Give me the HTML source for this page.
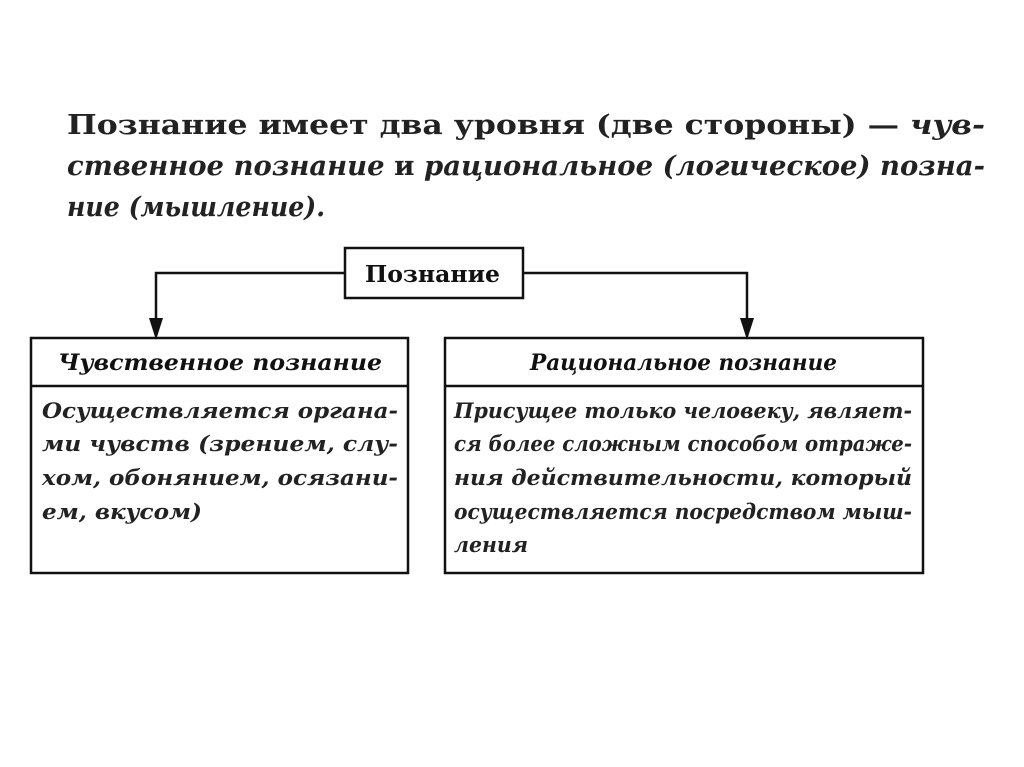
<!DOCTYPE html>
<html><head><meta charset="utf-8"><style>
html,body{margin:0;padding:0;background:#fff;}
svg{display:block;}
</style></head><body>
<svg width="1024" height="767" xmlns="http://www.w3.org/2000/svg" font-family="'DejaVu Serif', 'Liberation Serif', serif">
<rect width="1024" height="767" fill="#fff"/>
<g font-size="27" font-weight="bold" fill="#222">
<text x="67" y="134" textLength="918" lengthAdjust="spacingAndGlyphs">Познание имеет два уровня (две стороны) — <tspan font-style="italic">чув-</tspan></text>
<text x="67" y="175" textLength="918" lengthAdjust="spacingAndGlyphs" font-style="italic">ственное познание <tspan font-style="normal">и</tspan> рациональное (логическое) позна-</text>
<text x="67" y="216" textLength="258" lengthAdjust="spacingAndGlyphs" font-style="italic">ние (мышление).</text>
</g>
<g stroke="#111" stroke-width="2.5" fill="none">
<rect x="345" y="248" width="178" height="50"/>
<polyline points="345,273 156,273 156,330"/>
<polyline points="523,273 747,273 747,330"/>
<rect x="31" y="338" width="377" height="235"/>
<line x1="31" y1="386" x2="408" y2="386"/>
<rect x="445" y="338" width="478" height="235"/>
<line x1="445" y1="386" x2="923" y2="386"/>
</g>
<polygon points="149,318 163,318 156,340" fill="#111"/>
<polygon points="740,318 754,318 747,340" fill="#111"/>
<text x="365" y="282" font-size="23" font-weight="bold" fill="#111" textLength="135" lengthAdjust="spacingAndGlyphs">Познание</text>
<g font-size="22" font-weight="bold" font-style="italic" fill="#111">
<text x="58" y="370" textLength="324" lengthAdjust="spacingAndGlyphs">Чувственное познание</text>
<text x="530" y="370" textLength="307" lengthAdjust="spacingAndGlyphs">Рациональное познание</text>
</g>
<g font-size="21" font-weight="bold" font-style="italic" fill="#222">
<text x="42" y="418" textLength="356" lengthAdjust="spacingAndGlyphs">Осуществляется органа-</text>
<text x="42" y="451" textLength="356" lengthAdjust="spacingAndGlyphs">ми чувств (зрением, слу-</text>
<text x="42" y="485" textLength="356" lengthAdjust="spacingAndGlyphs">хом, обонянием, осязани-</text>
<text x="42" y="519" textLength="160" lengthAdjust="spacingAndGlyphs">ем, вкусом)</text>
<text x="454" y="418" textLength="458" lengthAdjust="spacingAndGlyphs">Присущее только человеку, являет-</text>
<text x="454" y="451" textLength="458" lengthAdjust="spacingAndGlyphs">ся более сложным способом отраже-</text>
<text x="454" y="485" textLength="458" lengthAdjust="spacingAndGlyphs">ния действительности, который</text>
<text x="454" y="519" textLength="458" lengthAdjust="spacingAndGlyphs">осуществляется посредством мыш-</text>
<text x="454" y="552" textLength="74" lengthAdjust="spacingAndGlyphs">ления</text>
</g>
</svg>
</body></html>
